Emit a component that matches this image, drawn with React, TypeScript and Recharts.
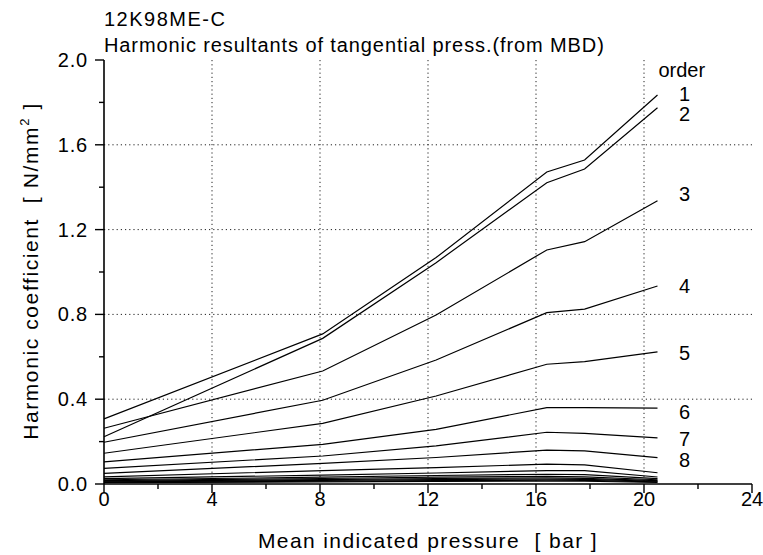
import React from 'react';
import { LineChart, Line, XAxis, YAxis, CartesianGrid, ReferenceDot } from 'recharts';

// Mean indicated pressure [bar] at which the harmonics were evaluated
const pressure = [0, 8.1, 12.3, 16.4, 17.8, 20.5];

// Harmonic resultants [N/mm^2] per order
const order1 = [0.307, 0.708, 1.068, 1.472, 1.528, 1.835];
const order2 = [0.223, 0.687, 1.044, 1.421, 1.486, 1.775];
const order3 = [0.263, 0.533, 0.797, 1.104, 1.143, 1.336];
const order4 = [0.197, 0.395, 0.585, 0.808, 0.825, 0.934];
const order5 = [0.145, 0.286, 0.415, 0.565, 0.577, 0.623];
const order6 = [0.104, 0.187, 0.258, 0.36, 0.36, 0.358];
const order7 = [0.074, 0.132, 0.18, 0.244, 0.239, 0.218];
const order8 = [0.05, 0.097, 0.125, 0.16, 0.156, 0.124];
const order9 = [0.034, 0.063, 0.077, 0.094, 0.09, 0.053];
const order10 = [0.025, 0.042, 0.052, 0.063, 0.063, 0.033];
const order11 = [0.02, 0.032, 0.04, 0.046, 0.044, 0.025];
const order12 = [0.016, 0.026, 0.032, 0.036, 0.034, 0.02];
const order13 = [0.013, 0.021, 0.026, 0.029, 0.027, 0.016];
const order14 = [0.01, 0.017, 0.021, 0.023, 0.022, 0.013];
const order15 = [0.008, 0.013, 0.016, 0.018, 0.017, 0.01];
const order16 = [0.006, 0.01, 0.012, 0.014, 0.013, 0.008];

const orderSeries = [
  order1, order2, order3, order4, order5, order6, order7, order8,
  order9, order10, order11, order12, order13, order14, order15, order16,
];

// Axis ticks and grid positions
const xTicks = [0, 2, 4, 6, 8, 10, 12, 14, 16, 18, 20, 22, 24];
const yTicks = [0, 0.2, 0.4, 0.6, 0.8, 1.0, 1.2, 1.4, 1.6, 1.8, 2.0];
const xGrid = [4, 8, 12, 16, 20];
const yGrid = [0.4, 0.8, 1.2, 1.6];

// Order annotations at the right-hand end of the curves
const orderNames = ['1', '2', '3', '4', '5', '6', '7', '8'];
const orderNameLevels = [1.84, 1.745, 1.368, 0.934, 0.618, 0.34, 0.212, 0.113];

const data = pressure.map((p, i) => {
  const row: Record<string, number> = { p };
  orderSeries.forEach((s, k) => {
    row['o' + (k + 1)] = s[i];
  });
  return row;
});

const FONT = "'Liberation Sans', Arial, sans-serif";
const FS = 20;

const BottomTick = (props: any) => {
  const { x, y, payload } = props;
  const v = payload.value as number;
  const major = v % 4 === 0;
  return (
    <g>
      <line x1={x} y1={y} x2={x} y2={y + (major ? 9 : 5)} stroke="#000" strokeWidth={1.4} />
      {major && (
        <text x={x} y={y + 22} textAnchor="middle" fontFamily={FONT} fontSize={FS} fill="#000">
          {v}
        </text>
      )}
    </g>
  );
};

const LeftTick = (props: any) => {
  const { x, y, payload } = props;
  const v = payload.value as number;
  const major = Math.round(v * 10) % 4 === 0;
  return (
    <g>
      <line x1={x - (major ? 9 : 5)} y1={y} x2={x} y2={y} stroke="#000" strokeWidth={1.4} />
      {major && (
        <text x={x - 16} y={y + 7} textAnchor="end" fontFamily={FONT} fontSize={FS} fill="#000" letterSpacing={0.8}>
          {v.toFixed(1)}
        </text>
      )}
    </g>
  );
};

const TopTick = (props: any) => {
  const { x, y } = props;
  return <line x1={x} y1={y} x2={x} y2={y + 4} stroke="#000" strokeWidth={1} />;
};

const RightTick = (props: any) => {
  const { x, y } = props;
  return <line x1={x - 4} y1={y} x2={x} y2={y} stroke="#000" strokeWidth={1} />;
};

const W = 763;
const H = 555;

export default function App() {
  return (
    <div style={{ position: 'relative', width: W, height: H }}>
      <style>{'body{margin:0;overflow:hidden}'}</style>
      <LineChart width={W} height={H} data={data} margin={{ top: 60, right: 11, left: 0, bottom: 0 }}>
        <CartesianGrid
          stroke="#222"
          strokeDasharray="1.2 3"
          verticalValues={xGrid}
          horizontalValues={yGrid}
        />
        <XAxis
          dataKey="p"
          type="number"
          domain={[0, 24]}
          ticks={xTicks}
          interval={0}
          height={71}
          tickSize={0}
          tickMargin={0}
          tickLine={false}
          axisLine={{ stroke: '#000', strokeWidth: 1.6 }}
          tick={<BottomTick />}
        />
        <XAxis
          xAxisId="top"
          orientation="top"
          type="number"
          domain={[0, 24]}
          ticks={xTicks}
          interval={0}
          height={0}
          tickSize={0}
          tickMargin={0}
          tickLine={false}
          axisLine={{ stroke: '#000', strokeWidth: 1.6 }}
          tick={<TopTick />}
        />
        <YAxis
          type="number"
          domain={[0, 2]}
          ticks={yTicks}
          interval={0}
          width={104}
          tickSize={0}
          tickMargin={0}
          tickLine={false}
          axisLine={{ stroke: '#000', strokeWidth: 1.6 }}
          tick={<LeftTick />}
        />
        <YAxis
          yAxisId="right"
          orientation="right"
          type="number"
          domain={[0, 2]}
          ticks={yTicks}
          interval={0}
          width={0}
          tickSize={0}
          tickMargin={0}
          tickLine={false}
          axisLine={{ stroke: '#000', strokeWidth: 1.6 }}
          tick={<RightTick />}
        />
        {orderSeries.map((_, k) => (
          <Line
            key={k}
            type="linear"
            dataKey={'o' + (k + 1)}
            stroke="#000"
            strokeWidth={1.2}
            dot={false}
            isAnimationActive={false}
          />
        ))}
        <ReferenceDot
          x={21.4}
          y={1.953}
          r={0}
          fill="none"
          stroke="none"
          label={{ value: 'order', position: 'center', fontSize: FS, fill: '#000', fontFamily: FONT }}
        />
        {orderNames.map((name, i) => (
          <ReferenceDot
            key={name}
            x={21.5}
            y={orderNameLevels[i]}
            r={0}
            fill="none"
            stroke="none"
            label={{ value: name, position: 'center', fontSize: FS, fill: '#000', fontFamily: FONT }}
          />
        ))}
      </LineChart>
      <svg
        width={W}
        height={H}
        style={{ position: 'absolute', left: 0, top: 0, pointerEvents: 'none' }}
        fontFamily={FONT}
        fontSize={FS}
        fill="#000"
      >
        <text x={104} y={26} letterSpacing={1.5}>12K98ME-C</text>
        <text x={104} y={52} letterSpacing={0.9}>Harmonic resultants of tangential press.(from MBD)</text>
        <text x={428} y={548} textAnchor="middle" fontSize={21} letterSpacing={1.4}>
          Mean indicated pressure{'\u00a0\u00a0'}[ bar ]
        </text>
        <text transform="translate(38, 271) rotate(-90)" textAnchor="middle" fontSize={21} letterSpacing={1.6}>
          Harmonic coefficient{'\u00a0\u00a0'}[ N/mm<tspan dy={-9} fontSize={13}>2</tspan>
          <tspan dy={9}> ]</tspan>
        </text>
      </svg>
    </div>
  );
}
